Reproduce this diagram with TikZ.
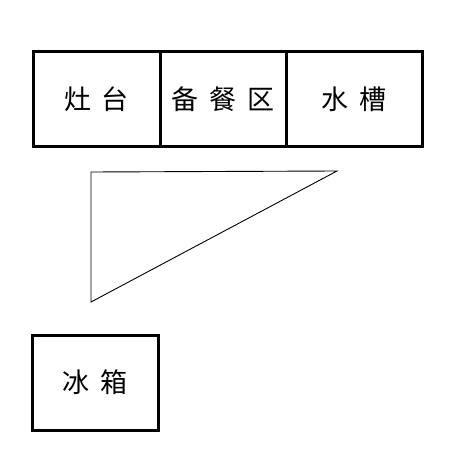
\documentclass[tikz,border=0pt]{standalone}
\usepackage{fontspec}
\usepackage{tikz}
\usetikzlibrary{positioning}
\newfontfamily\cjk{Noto Sans CJK SC}
\def\gap{\hspace{11pt}}

\begin{document}
\begin{tikzpicture}[x=1pt, y=-1pt,
	cell/.style={rectangle, draw=black, line width=3pt, minimum height=95, inner sep=0pt, font=\cjk\fontsize{27}{27}\selectfont},
	]
		\useasboundingbox (0,0) rectangle (454,470);

		%Nodes
		\node[cell, minimum width=127] (stove)  at (96.5,99)  {灶\gap 台};
		\node[cell, minimum width=126] (prep)   at (223,99)   {备\gap 餐\gap 区};
		\node[cell, minimum width=136] (sink)   at (354,99)   {水\gap 槽};
		\node[cell, minimum width=126] (fridge) at (95,382.5) {冰\gap 箱};

		%Triangle
		\coordinate (top left)  at (91,172);
		\coordinate (top right) at (337,171);
		\coordinate (bottom)    at (91,302);
		\draw[line width=0.9pt] (top left) -- (top right) -- (bottom) -- cycle;
	\end{tikzpicture}
\end{document}
